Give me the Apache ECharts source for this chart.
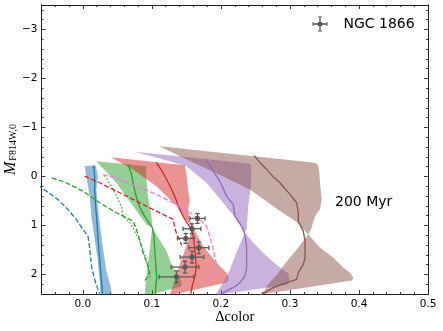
<!DOCTYPE html>
<html><head><meta charset="utf-8">
<script src="https://cdn.jsdelivr.net/npm/echarts@6/dist/echarts.min.js"></script>
<style>html,body{margin:0;padding:0;background:#fff}#c{width:443px;height:331px}</style>
</head><body><div id="c"></div>
<script>
// ---- tick values ----
const xMajorTicks = [0, 0.1, 0.2, 0.3, 0.4, 0.5];
const xMinorTicks = [-0.04,-0.02,0.02,0.04,0.06,0.08,0.12,0.14,0.16,0.18,0.22,0.24,0.26,0.28,0.32,0.34,0.36,0.38,0.42,0.44,0.46,0.48];
const yMajorTicks = [-3, -2, -1, 0, 1, 2];
const yMinorTicks = [-3.4,-3.2,-2.8,-2.6,-2.4,-2.2,-1.8,-1.6,-1.4,-1.2,-0.8,-0.6,-0.4,-0.2,0.2,0.4,0.6,0.8,1.2,1.4,1.6,1.8,2.2];

// ---- shaded bands: edge A (top-right, down) and edge B (top-left, down) ----
const blueBandA = [[0.0184,-0.224],[0.0218,-0.006],[0.0194,0.265],[0.0218,0.606],[0.0242,0.945],[0.029,1.455],[0.034,1.933],[0.0412,2.306],[0.0416,2.45]];
const blueBandB = [[0.0025,-0.214],[0.0049,-0.006],[0.0097,0.402],[0.0122,0.81],[0.017,1.286],[0.0213,1.694],[0.0242,2.102],[0.0257,2.45]];

const greenBandA = [[0.092,-0.21],[0.092,0.061],[0.0943,0.402],[0.0968,0.606],[0.0993,0.81],[0.1004,1.041],[0.0968,1.49],[0.0939,1.796],[0.092,2.102],[0.0896,2.367],[0.0888,2.449]];
const greenBandB = [[0.0194,-0.312],[0.0485,0.129],[0.0726,0.606],[0.092,0.98],[0.1004,1.041],[0.1065,1.184],[0.121,1.524],[0.1283,1.796],[0.136,1.98],[0.1428,2.143],[0.1425,2.245]];

const redBandA = [[0.1476,-0.231],[0.1501,-0.041],[0.1524,0.265],[0.1549,0.504],[0.1524,0.673],[0.1549,0.878],[0.1597,1.047],[0.1505,1.388],[0.1418,1.735],[0.1331,2.102],[0.1258,2.429]];
const redBandB = [[0.0402,-0.394],[0.0726,-0.143],[0.1065,0.198],[0.1356,0.606],[0.1491,0.878],[0.1597,1.047],[0.1742,1.422],[0.1936,1.761],[0.2081,1.965],[0.2115,2.082],[0.2086,2.163]];

const purpleBandA = [[0.2419,-0.265],[0.2444,-0.21],[0.2434,0.061],[0.243,0.265],[0.2395,0.606],[0.2383,0.878],[0.2372,1.082],[0.2347,1.149],[0.2274,1.388],[0.2202,1.633],[0.2129,1.898],[0.2057,2.102],[0.1969,2.306],[0.1911,2.429]];
const purpleBandB = [[0.075,-0.504],[0.1113,-0.367],[0.1501,-0.21],[0.1791,0.129],[0.2032,0.537],[0.2226,0.878],[0.2347,1.149],[0.2492,1.388],[0.2637,1.592],[0.2782,1.776],[0.2898,1.898],[0.2975,1.98],[0.2993,2.102],[0.2971,2.204]];

const brownBandA = [[0.3363,-0.28],[0.3411,-0.224],[0.3425,-0.076],[0.3435,0.129],[0.346,0.469],[0.3435,0.673],[0.3387,0.755],[0.3338,0.912],[0.3315,1.047],[0.3266,1.184],[0.3097,1.49],[0.2942,1.755],[0.2811,2.0],[0.2681,2.204],[0.2594,2.408]];
const brownBandB = [[0.1113,-0.618],[0.1403,-0.414],[0.1911,-0.082],[0.2419,0.265],[0.2855,0.708],[0.3087,0.918],[0.3266,1.184],[0.3435,1.455],[0.3628,1.659],[0.3774,1.863],[0.3871,1.965],[0.3919,2.067],[0.3895,2.122]];

// ---- curves ----
const blueSolid = [[0.0155,-0.224],[0.017,0],[0.017,0.265],[0.0184,0.612],[0.0206,0.98],[0.022,1.286],[0.0242,1.653],[0.0257,1.96],[0.0279,2.306],[0.0286,2.45]];
const blueDashed = [[-0.065,0.17],[-0.061,0.218],[-0.0363,0.469],[-0.0218,0.673],[-0.0096,0.878],[0,1.082],[0.0073,1.218],[0.0097,1.449],[0.0122,1.816],[0.017,2.102],[0.0218,2.306],[0.0242,2.388]];
const greenSolid = [[0.0653,-0.245],[0.0702,-0.061],[0.0726,0.129],[0.0758,0.333],[0.0798,0.537],[0.0852,0.714],[0.0924,0.878],[0.1004,1.041],[0.1026,1.184],[0.1041,1.49],[0.1055,1.796],[0.107,2.061],[0.1055,2.265],[0.1048,2.45]];
const greenDashed = [[-0.045,0.027],[-0.0241,0.129],[0,0.3],[0.0242,0.537],[0.0485,0.741],[0.063,0.843],[0.0726,0.912],[0.0775,1.082],[0.0823,1.286],[0.0871,1.557],[0.0943,1.831],[0.0968,1.965],[0.092,2.08],[0.09,2.13]];
const greenDotted = [[0.0315,-0.02],[0.0412,0.198],[0.0485,0.402],[0.0557,0.606],[0.058,0.81],[0.0678,0.945],[0.0726,1.047],[0.0823,1.32],[0.0896,1.592],[0.0943,1.863],[0.0968,2.067]];
const redSolid = [[0.1065,-0.28],[0.1161,-0.076],[0.1258,0.184],[0.1331,0.408],[0.1403,0.673],[0.1476,0.878],[0.1573,1.082],[0.1607,1.286],[0.1621,1.49],[0.1643,1.857],[0.1621,2.061],[0.1585,2.224],[0.1556,2.45]];
const redDashed = [[0.0025,-0.006],[0.0242,0.129],[0.0435,0.265],[0.0678,0.435],[0.092,0.606],[0.1161,0.776],[0.1306,0.878],[0.1331,1.041],[0.136,1.184],[0.1403,1.306],[0.1432,1.408]];
const pinkDashed = [[0.029,-0.041],[0.0533,0.061],[0.0775,0.198],[0.1065,0.367],[0.1306,0.537],[0.1501,0.694],[0.1694,0.878],[0.1791,1.014],[0.1839,1.224],[0.1887,1.49],[0.1936,1.796],[0.1868,2.041],[0.1791,2.143]];
const purpleSolid = [[0.1776,-0.361],[0.1887,-0.108],[0.1984,0.096],[0.2081,0.402],[0.2177,0.571],[0.2202,0.81],[0.2299,1.014],[0.2347,1.184],[0.2372,1.455],[0.2372,1.863],[0.2347,2.035],[0.2274,2.169],[0.2177,2.271],[0.2032,2.373],[0.1911,2.449]];
const brownSolid = [[0.2478,-0.429],[0.2565,-0.286],[0.2662,-0.143],[0.2753,0],[0.2855,0.129],[0.3,0.367],[0.3097,0.537],[0.3121,0.741],[0.3121,0.912],[0.3193,1.116],[0.3218,1.32],[0.3218,1.659],[0.3193,1.796],[0.3121,1.965],[0.3097,2.102],[0.2952,2.169],[0.2758,2.271],[0.2637,2.373],[0.2536,2.449]];

// ---- NGC 1866 observations ----
const obsX = [0.166, 0.158, 0.149, 0.168, 0.158, 0.148, 0.1355];
const obsY = [0.857, 1.067, 1.265, 1.455, 1.647, 1.85, 2.05];
const obsXErr = [0.011, 0.013, 0.012, 0.0145, 0.017, 0.02, 0.025];
const obsYErr = [0.1, 0.1, 0.1, 0.12, 0.12, 0.12, 0.12];

const C = {blue:'#1f77b4', green:'#2ca02c', red:'#d62728', purple:'#9467bd', brown:'#8c564b', pink:'#e67ae6', gray:'#5a5a5a'};
function rgba(hex, a){const n=parseInt(hex.slice(1),16);return 'rgba('+(n>>16)+','+((n>>8)&255)+','+(n&255)+','+a+')';}

function band(name, A, B, color){
  const pts = A.concat(B.slice().reverse());
  return {type:'custom', name:name, clip:true, silent:true, z:1, animation:false,
    data: pts, encode:{x:0,y:1},
    renderItem:function(params, api){
      if (params.dataIndex !== 0) return null;
      return {type:'polygon', shape:{points: pts.map(function(p){return api.coord(p);})}, style:{fill: rgba(color,0.5)}};
    }};
}
function curve(name, pts, color, dash){
  return {type:'line', name:name, data:pts, showSymbol:false, symbol:'none', silent:true, z:3, animation:false,
    lineStyle:{color:color, width:1.3, type:dash||'solid', cap:'butt'}};
}
const DASH=[5,2.2], DOT=[1.4,2.2];

const errData = obsX.map(function(x,i){return [x, obsY[i], obsXErr[i], obsYErr[i]];});

const axisLineStyle = {show:true, onZero:false, lineStyle:{color:'#222', width:1}};
function xAx(pos, ticks, len, labels){
  return {type:'value', position:pos, min:-0.06, max:0.5, splitLine:{show:false}, nameMoveOverlap:false,
    axisLine: axisLineStyle,
    axisTick:{show:true, inside:true, length:len, customValues:ticks, lineStyle:{color:'#222', width:0.9}},
    axisLabel: labels ? {show:true, customValues:ticks, margin:4.5, fontSize:10.5, fontFamily:'DejaVu Sans', color:'#000',
      formatter:function(v){return (+v).toFixed(1);}} : {show:false},
    minorTick:{show:false}};
}
function yAx(pos, ticks, len, labels){
  return {type:'value', position:pos, inverse:true, min:-3.5, max:2.4, splitLine:{show:false}, nameMoveOverlap:false,
    axisLine: axisLineStyle,
    axisTick:{show:true, inside:true, length:len, customValues:ticks, lineStyle:{color:'#222', width:0.9}},
    axisLabel: labels ? {show:true, customValues:ticks, margin:4, fontSize:10.5, fontFamily:'DejaVu Sans', color:'#000',
      formatter:function(v){return v<0 ? '\u2212'+Math.abs(v) : String(v);}} : {show:false},
    minorTick:{show:false}};
}
const xMain = xAx('bottom', xMajorTicks, 4, true);
xMain.name = 'Δcolor'; xMain.nameLocation='middle'; xMain.nameGap=15.5;
xMain.nameTextStyle = {fontFamily:'Liberation Serif', fontSize:14.5, color:'#000'};
const yMain = yAx('left', yMajorTicks, 4, true);
yMain.name = '{m|M}{s|F814W,0}'; yMain.nameLocation='middle'; yMain.nameGap=23; yMain.nameRotate=90;
yMain.nameTextStyle = {rich:{
  m:{fontFamily:'Liberation Serif', fontStyle:'italic', fontSize:16, color:'#000', verticalAlign:'bottom'},
  s:{fontFamily:'Liberation Serif', fontSize:10, color:'#000', verticalAlign:'bottom', padding:[0,0,0,1]}
}};

const legendIcon = 'path://M0 13.7H30V16.3H0Z M13.7 0H16.3V30H13.7Z M0 11H2V19H0Z M28 11H30V19H28Z M11 0H19V2H11Z M11 28H19V30H11Z M20 15A5 5 0 1 1 10 15A5 5 0 1 1 20 15Z';

const option = {
  animation:false,
  backgroundColor:'#fff',
  grid:{left:41.5, right:15, top:5, bottom:37, containLabel:false, outerBoundsMode:'none'},
  title:{text:'200 Myr', left:335, top:195, padding:0,
    textStyle:{fontFamily:'DejaVu Sans', fontSize:14, fontWeight:'normal', color:'#000'}},
  legend:{show:true, left:312.5, top:16.5, padding:0, itemWidth:15, itemHeight:15, selectedMode:false,
    data:[{name:'NGC 1866', icon:legendIcon}],
    textStyle:{fontFamily:'DejaVu Sans', fontSize:14, color:'#000', padding:[0,0,0,11]}},
  xAxis:[xMain, xAx('top', xMajorTicks, 4, false), xAx('bottom', xMinorTicks, 2, false), xAx('top', xMinorTicks, 2, false)],
  yAxis:[yMain, yAx('right', yMajorTicks, 4, false), yAx('left', yMinorTicks, 2, false), yAx('right', yMinorTicks, 2, false)],
  series:[
    band('blue band', blueBandA, blueBandB, C.blue),
    band('green band', greenBandA, greenBandB, C.green),
    band('red band', redBandA, redBandB, C.red),
    band('purple band', purpleBandA, purpleBandB, C.purple),
    band('brown band', brownBandA, brownBandB, C.brown),
    curve('blue', blueSolid, C.blue),
    curve('blue dashed', blueDashed, C.blue, DASH),
    curve('green', greenSolid, C.green),
    curve('green dashed', greenDashed, C.green, DASH),
    curve('green dotted', greenDotted, C.green, DOT),
    curve('red', redSolid, C.red),
    curve('red dashed', redDashed, C.red, DASH),
    curve('pink dashed', pinkDashed, C.pink, DASH),
    curve('purple', purpleSolid, C.purple),
    curve('brown', brownSolid, C.brown),
    {type:'custom', name:'NGC 1866', z:5, silent:true, animation:false, data:errData, encode:{x:0,y:1},
      itemStyle:{color:C.gray},
      renderItem:function(params, api){
        const x=api.value(0), y=api.value(1), xe=api.value(2), ye=api.value(3);
        const c=api.coord([x,y]), l=api.coord([x-xe,y]), r=api.coord([x+xe,y]), t=api.coord([x,y-ye]), b=api.coord([x,y+ye]);
        const cap=2.2, st={stroke:C.gray, lineWidth:1.3};
        return {type:'group', children:[
          {type:'line', shape:{x1:l[0],y1:l[1],x2:r[0],y2:r[1]}, style:st},
          {type:'line', shape:{x1:t[0],y1:t[1],x2:b[0],y2:b[1]}, style:st},
          {type:'line', shape:{x1:l[0],y1:l[1]-cap,x2:l[0],y2:l[1]+cap}, style:st},
          {type:'line', shape:{x1:r[0],y1:r[1]-cap,x2:r[0],y2:r[1]+cap}, style:st},
          {type:'line', shape:{x1:t[0]-cap,y1:t[1],x2:t[0]+cap,y2:t[1]}, style:st},
          {type:'line', shape:{x1:b[0]-cap,y1:b[1],x2:b[0]+cap,y2:b[1]}, style:st},
          {type:'circle', shape:{cx:c[0],cy:c[1],r:2.6}, style:{fill:C.gray}}
        ]};
      }}
  ]
};
const chart = echarts.init(document.getElementById('c'), null, {renderer:'canvas'});
chart.setOption(option);
</script></body></html>
